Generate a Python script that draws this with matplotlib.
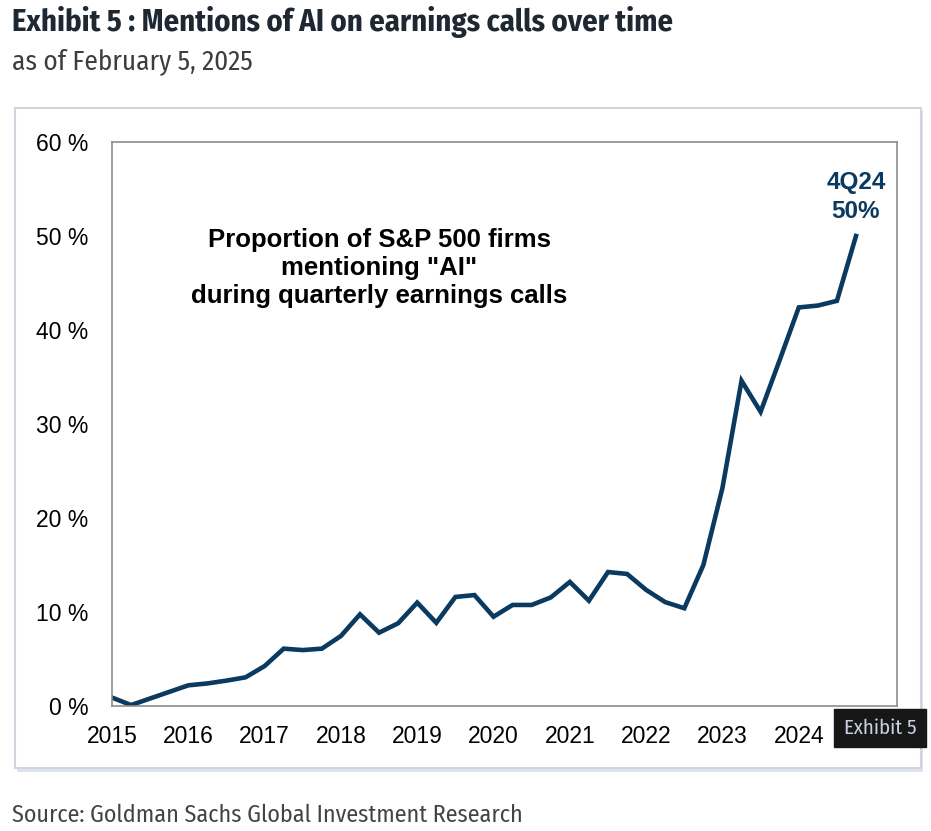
import matplotlib.pyplot as plt
from matplotlib.patches import Rectangle
import numpy as np

# Dados trimestrais: 1Q15 ate 4Q24 (% de empresas do S&P 500 citando "AI")
trimestres = [f'{q}Q{a % 100:02d}' for a in range(2015, 2025) for q in range(1, 5)]
mencoes_ai = [0.9, 0.1, 0.8, 1.5, 2.2, 2.4, 2.7, 3.05,
              4.25, 6.1, 5.95, 6.1, 7.45, 9.75, 7.8, 8.8,
              11.0, 8.85, 11.6, 11.8, 9.5, 10.75, 10.75, 11.55,
              13.2, 11.2, 14.25, 14.05, 12.35, 11.05, 10.4, 15.0,
              23.2, 34.6, 31.3, 36.8, 42.4, 42.6, 43.1, 50.0]
anos = [str(a) for a in range(2015, 2025)]
y_ticks = [0, 10, 20, 30, 40, 50, 60]
y_labels = [f'{v} %' for v in y_ticks]

# Fonte condensada para titulo/rodape (com alternativas)
FONTE_COND = ['Fira Sans Condensed', 'Barlow Semi Condensed', 'DejaVu Sans']


def main():
    fig = plt.figure(figsize=(9.31, 8.31), dpi=100)
    fig.patch.set_facecolor('white')

    # Painel branco com borda/sombra em volta do grafico
    sombra = Rectangle((17 / 931, 1 - 772 / 831), 906 / 931, 662 / 831,
                       transform=fig.transFigure, facecolor='#dfe4ec',
                       edgecolor='none', zorder=-2)
    painel = Rectangle((15 / 931, 1 - 768 / 831), 906 / 931, 660 / 831,
                       transform=fig.transFigure, facecolor='white',
                       edgecolor='#cfd6e0', linewidth=1.5, zorder=-1)
    fig.patches.extend([sombra, painel])

    ax = fig.add_axes([112 / 931, 1 - 706 / 831, 785 / 931, 564 / 831])
    ax.set_facecolor('white')

    x = np.arange(len(mencoes_ai))
    ax.plot(x, mencoes_ai, color='#0b3a60', linewidth=3.3, solid_joinstyle='miter')

    ax.set_xlim(0, 41.15)
    ax.set_ylim(0, 60)
    ax.set_yticks(y_ticks)
    ax.set_yticklabels(y_labels)
    ax.set_xticks(np.arange(0, 40, 4))
    ax.set_xticklabels(anos)
    ax.tick_params(axis='both', length=0, labelsize=16.5, labelcolor='black')
    ax.tick_params(axis='y', pad=17)
    ax.tick_params(axis='x', pad=14)
    for lbl in ax.get_xticklabels() + ax.get_yticklabels():
        lbl.set_fontfamily('Liberation Sans')
    for spine in ax.spines.values():
        spine.set_color('#8c8c8c')
        spine.set_linewidth(1.2)

    # Texto explicativo dentro do grafico
    ax.text(14.0, 46.6, 'Proportion of S&P 500 firms\nmentioning "AI"\nduring quarterly earnings calls',
            ha='center', va='center', fontsize=18.5, fontweight='bold',
            family='Liberation Sans', color='black', linespacing=1.22)

    # Rotulo do ultimo ponto
    ax.text(x[-1], mencoes_ai[-1] + 1.4, f'{trimestres[-1]}\n{mencoes_ai[-1]:.0f}%',
            ha='center', va='bottom', fontsize=17.5, fontweight='bold',
            family='Liberation Sans', color='#0b3a60', linespacing=1.3)

    # Titulo, subtitulo e fonte
    fig.text(12 / 931, 1 - 22 / 831, 'Exhibit 5 : Mentions of AI on earnings calls over time',
             ha='left', va='center', fontsize=22, fontweight='bold',
             family=FONTE_COND, color='#1d2833')
    fig.text(12 / 931, 1 - 62 / 831, 'as of February 5, 2025',
             ha='left', va='center', fontsize=19.5,
             family=FONTE_COND, color='#3d3d3d')
    fig.text(12 / 931, 1 - 815 / 831, 'Source: Goldman Sachs Global Investment Research',
             ha='left', va='center', fontsize=17.3,
             family=FONTE_COND, color='#444444')

    # Etiqueta "Exhibit 5" no canto inferior direito
    fig.text(880 / 931, 1 - 728 / 831, 'Exhibit 5', ha='center', va='center',
             fontsize=15, family=FONTE_COND, color='#c9d0e2',
             bbox=dict(boxstyle='square,pad=0.45', facecolor='#171717', edgecolor='#171717'))

    fig.savefig('out.png', dpi=100, facecolor=fig.get_facecolor())


if __name__ == "__main__":
    main()
